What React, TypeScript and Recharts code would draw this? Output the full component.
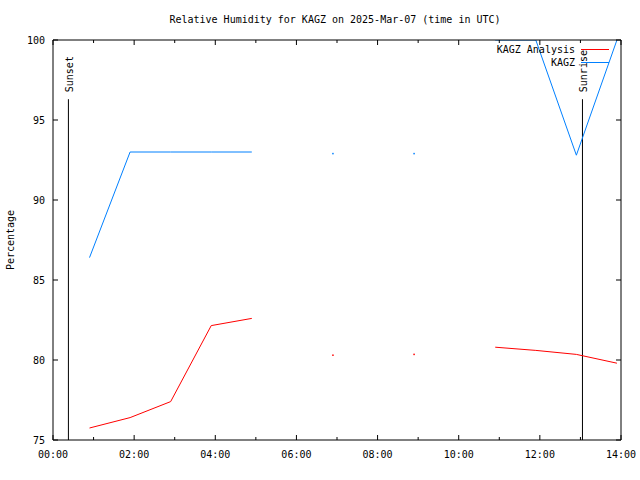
import React from 'react';
import { LineChart, Line, XAxis, YAxis, ReferenceLine } from 'recharts';

// observation times in hours UTC
const hours = [0.9, 1.9, 2.9, 3.9, 4.9, 5.9, 6.9, 7.9, 8.9, 9.9, 10.9, 11.9, 12.9, 13.9];
const analysisRH = [75.75, 76.4, 77.4, 82.15, 82.6, null, 80.3, null, 80.35, null, 80.8, 80.6, 80.35, 79.8];
const kagzRH = [86.4, 93, 93, 93, 93, null, 92.9, null, 92.9, null, 100, 100, 92.8, 100];

const hourTicks = [0, 1, 2, 3, 4, 5, 6, 7, 8, 9, 10, 11, 12, 13, 14];
const hourLabels = ['00:00', '', '02:00', '', '04:00', '', '06:00', '', '08:00', '', '10:00', '', '12:00', '', '14:00'];
const pctTicks = [75, 80, 85, 90, 95, 100];

const sunsetHour = 0.38;
const sunriseHour = 13.05;

const FONT = '"DejaVu Sans Mono", monospace';
const RED = '#ff0000';
const BLUE = '#0080ff';

const chartData = hours.map((t, i) => ({
  t,
  analysis: analysisRH[i],
  kagz: kagzRH[i],
}));

// gnuplot draws a single pixel for points with no neighbours
const lonePoint = (series: (number | null)[], color: string) => (props: any) => {
  const { cx, cy, index } = props;
  const prev = index > 0 ? series[index - 1] : null;
  const next = index < series.length - 1 ? series[index + 1] : null;
  if (series[index] == null || prev != null || next != null || cx == null || cy == null) {
    return <g key={`d${index}`} />;
  }
  return <rect key={`d${index}`} x={cx - 0.75} y={cy - 0.75} width={1.5} height={1.5} fill={color} />;
};

const BottomTick = ({ x, y, index }: any) => {
  const label = hourLabels[index] ?? '';
  const len = label ? 5 : 3;
  return (
    <g>
      <line x1={x} x2={x} y1={y} y2={y - len} stroke="#000" />
      {label && (
        <text x={x} y={y + 18} textAnchor="middle" fontFamily={FONT} fontSize={10} fill="#000">
          {label}
        </text>
      )}
    </g>
  );
};

const TopTick = ({ x, y, index }: any) => {
  const len = hourLabels[index] ? 5 : 3;
  return <line x1={x} x2={x} y1={y} y2={y + len} stroke="#000" />;
};

const LeftTick = ({ x, y, payload }: any) => (
  <g>
    <line x1={x} x2={x + 5} y1={y} y2={y} stroke="#000" />
    <text x={x - 8} y={y + 3.5} textAnchor="end" fontFamily={FONT} fontSize={10} fill="#000">
      {payload.value}
    </text>
  </g>
);

const RightTick = ({ x, y }: any) => <line x1={x} x2={x - 5} y1={y} y2={y} stroke="#000" />;

const markerLabel = (text: string) => ({ viewBox }: any) => {
  const top = Math.min(viewBox.y, viewBox.y + viewBox.height);
  const px = viewBox.x + 5;
  const py = top - 7;
  return (
    <text
      x={px}
      y={py}
      transform={`rotate(-90 ${px} ${py})`}
      textAnchor="start"
      fontFamily={FONT}
      fontSize={10}
      fill="#000"
    >
      {text}
    </text>
  );
};

const YLabel = ({ viewBox }: any) => {
  const cx = 14;
  const cy = viewBox.y + viewBox.height / 2;
  return (
    <text
      x={cx}
      y={cy}
      transform={`rotate(-90 ${cx} ${cy})`}
      textAnchor="middle"
      fontFamily={FONT}
      fontSize={10}
      fill="#000"
    >
      Percentage
    </text>
  );
};

export default function App() {
  return (
    <div style={{ position: 'absolute', left: 0, top: 0, width: 640, height: 480, background: '#fff' }}>
      <div
        style={{
          position: 'absolute',
          left: 0,
          width: 670,
          top: 14,
          textAlign: 'center',
          fontFamily: FONT,
          fontSize: 10,
          lineHeight: '12px',
        }}
      >
        Relative Humidity for KAGZ on 2025-Mar-07 (time in UTC)
      </div>
      <LineChart
        width={640}
        height={480}
        data={chartData}
        margin={{ top: 39, right: 18, bottom: 39, left: 52 }}
      >
        <XAxis
          dataKey="t"
          type="number"
          domain={[0, 14]}
          ticks={hourTicks}
          allowDataOverflow
          height={1}
          tickSize={0}
          tickMargin={0}
          tickLine={false}
          axisLine={{ stroke: '#000' }}
          tick={<BottomTick />}
          interval={0}
        />
        <XAxis
          xAxisId="top"
          orientation="top"
          dataKey="t"
          type="number"
          domain={[0, 14]}
          ticks={hourTicks}
          allowDataOverflow
          height={1}
          tickSize={0}
          tickMargin={0}
          tickLine={false}
          axisLine={{ stroke: '#000' }}
          tick={<TopTick />}
          interval={0}
        />
        <YAxis
          type="number"
          domain={[75, 100]}
          ticks={pctTicks}
          allowDataOverflow
          width={1}
          tickSize={0}
          tickMargin={0}
          tickLine={false}
          axisLine={{ stroke: '#000' }}
          tick={<LeftTick />}
          interval={0}
          label={<YLabel />}
        />
        <YAxis
          yAxisId="right"
          orientation="right"
          type="number"
          domain={[75, 100]}
          ticks={pctTicks}
          allowDataOverflow
          width={1}
          tickSize={0}
          tickMargin={0}
          tickLine={false}
          axisLine={{ stroke: '#000' }}
          tick={<RightTick />}
          interval={0}
        />
        <ReferenceLine
          segment={[{ x: sunsetHour, y: 75 }, { x: sunsetHour, y: 96.3 }]}
          stroke="#000"
          strokeWidth={1}
          label={markerLabel('Sunset')}
        />
        <ReferenceLine
          segment={[{ x: sunriseHour, y: 75 }, { x: sunriseHour, y: 96.3 }]}
          stroke="#000"
          strokeWidth={1}
          label={markerLabel('Sunrise')}
        />
        <Line
          type="linear"
          dataKey="analysis"
          name="KAGZ Analysis"
          stroke={RED}
          strokeWidth={1}
          dot={lonePoint(analysisRH, RED)}
          activeDot={false}
          connectNulls={false}
          isAnimationActive={false}
        />
        <Line
          type="linear"
          dataKey="kagz"
          name="KAGZ"
          stroke={BLUE}
          strokeWidth={1}
          dot={lonePoint(kagzRH, BLUE)}
          activeDot={false}
          connectNulls={false}
          isAnimationActive={false}
        />
      </LineChart>
      {[
        { name: 'KAGZ Analysis', color: RED, y: 50 },
        { name: 'KAGZ', color: BLUE, y: 63 },
      ].map(item => (
        <React.Fragment key={item.name}>
          <div
            style={{
              position: 'absolute',
              right: 640 - 575,
              top: item.y - 6,
              fontFamily: FONT,
              fontSize: 10,
              lineHeight: '12px',
              whiteSpace: 'nowrap',
            }}
          >
            {item.name}
          </div>
          <div
            style={{
              position: 'absolute',
              left: 581,
              top: item.y - 1,
              width: 28,
              height: 1,
              background: item.color,
            }}
          />
        </React.Fragment>
      ))}
    </div>
  );
}
